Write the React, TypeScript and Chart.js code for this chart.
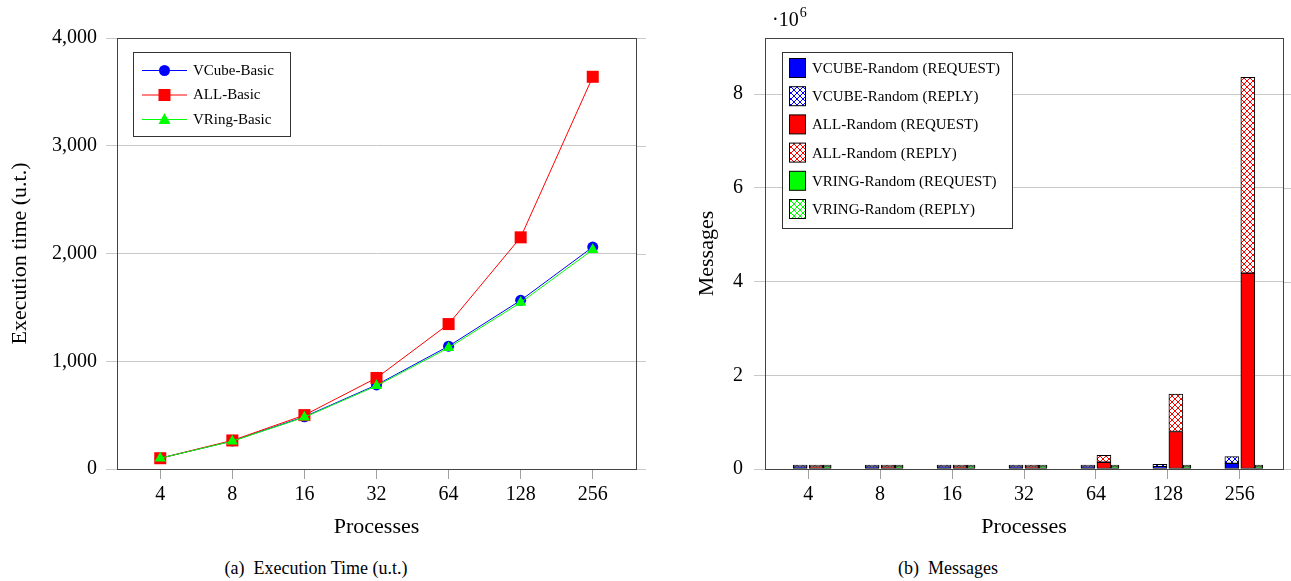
import React, { useEffect, useRef } from 'react';
import { Chart, registerables } from 'chart.js';
Chart.register(...registerables);

const FONT = '"Liberation Serif", "Times New Roman", serif';

// ---- data: left chart (execution time) ----
const processes = ['4', '8', '16', '32', '64', '128', '256'];
const vcubeBasic = [100, 260, 485, 780, 1140, 1565, 2060];
const allBasic = [100, 265, 500, 845, 1345, 2150, 3640];
const vringBasic = [100, 258, 480, 772, 1125, 1545, 2035];
const timeTicks = [0, 1000, 2000, 3000, 4000];

// ---- data: right chart (messages) ----
const vcubeRequest = [150, 700, 2500, 6000, 15000, 50000, 120000];
const vcubeReply = [150, 700, 2500, 6000, 17000, 50000, 143000];
const allRequest = [100, 700, 4300, 30000, 145000, 800000, 4180000];
const allReply = [100, 700, 4300, 30000, 145000, 800000, 4180000];
const vringRequest = [30, 150, 600, 2000, 5000, 12000, 25000];
const vringReply = [30, 150, 600, 2000, 5000, 12000, 25000];
const msgTicks = [0, 2e6, 4e6, 6e6, 8e6];
const msgMax = 9.2e6;
const msgExponent = 6;

// group offsets (style)
const OFF_VCUBE = -0.111;
const OFF_ALL = 0.111;
const OFF_VRING = 0.264;

const BLUE = '#0000ff';
const RED = '#ff0000';
const GREEN = '#00ff00';
const GRID = '#c8c8c8';
const TICKC = '#a0a0a0';
const FRAME = '#444';

function hatch(color: string): CanvasPattern {
  const c = document.createElement('canvas');
  c.width = 6;
  c.height = 6;
  const g = c.getContext('2d')!;
  g.fillStyle = '#fff';
  g.fillRect(0, 0, 6, 6);
  g.strokeStyle = color;
  g.lineWidth = 1;
  g.beginPath();
  g.moveTo(0, 0);
  g.lineTo(6, 6);
  g.moveTo(6, 0);
  g.lineTo(0, 6);
  g.stroke();
  return g.createPattern(c, 'repeat')!;
}

function drawFrame(chart: any, extend: number) {
  const { ctx, chartArea: a, scales } = chart;
  const y = scales.y;
  ctx.save();
  ctx.strokeStyle = GRID;
  ctx.lineWidth = 1;
  y.ticks.forEach((t: any) => {
    const py = Math.round(y.getPixelForValue(t.value)) + 0.5;
    ctx.beginPath();
    ctx.moveTo(a.right, py);
    ctx.lineTo(a.right + extend, py);
    ctx.stroke();
  });
  ctx.strokeStyle = FRAME;
  ctx.lineWidth = 1;
  ctx.strokeRect(Math.round(a.left) + 0.5, Math.round(a.top) + 0.5, Math.round(a.right - a.left), Math.round(a.bottom - a.top));
  ctx.restore();
}

function drawMarker(ctx: CanvasRenderingContext2D, kind: string, x: number, y: number, color: string) {
  ctx.fillStyle = color;
  ctx.beginPath();
  if (kind === 'circle') {
    ctx.arc(x, y, 5.5, 0, Math.PI * 2);
  } else if (kind === 'rect') {
    ctx.rect(x - 6, y - 6, 12, 12);
  } else {
    ctx.moveTo(x, y - 6.5);
    ctx.lineTo(x + 6, y + 4.5);
    ctx.lineTo(x - 6, y + 4.5);
    ctx.closePath();
  }
  ctx.fill();
}

const lineLegendItems = [
  { label: 'VCube-Basic', color: BLUE, marker: 'circle' },
  { label: 'ALL-Basic', color: RED, marker: 'rect' },
  { label: 'VRing-Basic', color: GREEN, marker: 'triangle' },
];

const leftPlugin = {
  id: 'leftDecor',
  afterDraw(chart: any) {
    drawFrame(chart, 10);
    const ctx: CanvasRenderingContext2D = chart.ctx;
    ctx.save();
    const bx = 133, by = 52, bw = 157, bh = 84;
    ctx.fillStyle = '#fff';
    ctx.fillRect(bx, by, bw, bh);
    ctx.strokeStyle = '#333';
    ctx.lineWidth = 1;
    ctx.strokeRect(bx + 0.5, by + 0.5, bw, bh);
    ctx.font = `15px ${FONT}`;
    ctx.textBaseline = 'middle';
    lineLegendItems.forEach((it, i) => {
      const cy = 70 + i * 24.5;
      ctx.strokeStyle = it.color;
      ctx.beginPath();
      ctx.moveTo(142, cy + 0.5);
      ctx.lineTo(187, cy + 0.5);
      ctx.stroke();
      drawMarker(ctx, it.marker, 164.5, cy + 0.5, it.color);
      ctx.fillStyle = '#000';
      ctx.fillText(it.label, 193, cy + 1);
    });
    ctx.restore();
  },
};

export default function App() {
  const leftRef = useRef<HTMLCanvasElement>(null);
  const rightRef = useRef<HTMLCanvasElement>(null);

  useEffect(() => {
    const tickFont = { family: FONT, size: 20 };
    const titleFont = { family: FONT, size: 22 };
    const xAxis = (titleText: string) => ({
      type: 'linear' as const,
      min: -0.6,
      max: 6.6,
      offset: false,
      afterBuildTicks: (s: any) => {
        s.ticks = processes.map((_, i) => ({ value: i }));
      },
      ticks: {
        autoSkip: false,
        maxRotation: 0,
        includeBounds: false,
        callback: (v: any) => processes[v as number],
        font: tickFont,
        color: '#000',
        padding: 4,
      },
      grid: { display: true, offset: false, drawOnChartArea: false, drawTicks: true, tickLength: 10, color: TICKC },
      border: { display: false },
      title: { display: true, text: titleText, font: titleFont, color: '#000', padding: { top: 0, bottom: 5 } },
      afterFit: (s: any) => {
        s.height = 76;
      },
    });

    const c1 = new Chart(leftRef.current!, {
      type: 'line',
      data: {
        datasets: [
          {
            label: 'VCube-Basic',
            data: vcubeBasic.map((v, i) => ({ x: i, y: v })),
            borderColor: BLUE,
            backgroundColor: BLUE,
            borderWidth: 1,
            pointStyle: 'circle',
            pointRadius: 5.5,
            pointBorderWidth: 0,
            order: 2,
          },
          {
            label: 'ALL-Basic',
            data: allBasic.map((v, i) => ({ x: i, y: v })),
            borderColor: RED,
            backgroundColor: RED,
            borderWidth: 1,
            pointStyle: 'rect',
            pointRadius: 8.5,
            pointBorderWidth: 0,
            order: 1,
          },
          {
            label: 'VRing-Basic',
            data: vringBasic.map((v, i) => ({ x: i, y: v })),
            borderColor: GREEN,
            backgroundColor: GREEN,
            borderWidth: 1,
            pointStyle: 'triangle',
            pointRadius: 6.5,
            pointBorderWidth: 0,
            order: 0,
          },
        ],
      },
      options: {
        responsive: true,
        maintainAspectRatio: false,
        animation: false,
        layout: { padding: { top: 38, left: 0, right: 14, bottom: 0 } },
        plugins: { legend: { display: false }, tooltip: { enabled: false } },
        scales: {
          x: xAxis('Processes') as any,
          y: {
            type: 'linear',
            min: timeTicks[0],
            max: timeTicks[timeTicks.length - 1],
            afterBuildTicks: (s: any) => {
              s.ticks = timeTicks.map((v) => ({ value: v }));
            },
            ticks: {
              font: tickFont,
              color: '#000',
              padding: 9,
              callback: (v: any) => Number(v).toLocaleString('en-US'),
            },
            grid: { color: GRID, tickLength: 11, drawTicks: true },
            border: { display: false },
            title: { display: true, text: 'Execution time (u.t.)', font: titleFont, color: '#000', padding: { top: 7, bottom: 0 } },
            afterFit: (s: any) => {
              s.width = 117;
            },
          },
        },
      },
      plugins: [leftPlugin],
    });

    const blueH = hatch(BLUE);
    const redH = hatch(RED);
    const greenH = hatch(GREEN);

    const barLegendItems = [
      { label: 'VCUBE-Random (REQUEST)', fill: BLUE as any },
      { label: 'VCUBE-Random (REPLY)', fill: blueH as any },
      { label: 'ALL-Random (REQUEST)', fill: RED as any },
      { label: 'ALL-Random (REPLY)', fill: redH as any },
      { label: 'VRING-Random (REQUEST)', fill: GREEN as any },
      { label: 'VRING-Random (REPLY)', fill: greenH as any },
    ];

    const rightPlugin = {
      id: 'rightDecor',
      afterDraw(chart: any) {
        drawFrame(chart, 8);
        const ctx: CanvasRenderingContext2D = chart.ctx;
        ctx.save();
        // exponent
        ctx.fillStyle = '#000';
        ctx.textBaseline = 'alphabetic';
        ctx.font = `20px ${FONT}`;
        const base = '\u00b710';
        ctx.fillText(base, 122, 26);
        const w = ctx.measureText(base).width;
        ctx.font = `14px ${FONT}`;
        ctx.fillText(String(msgExponent), 122 + w + 1, 17);
        // legend
        const bx = 132, by = 52, bw = 230, bh = 176;
        ctx.fillStyle = '#fff';
        ctx.fillRect(bx, by, bw, bh);
        ctx.strokeStyle = '#333';
        ctx.lineWidth = 1;
        ctx.strokeRect(bx + 0.5, by + 0.5, bw, bh);
        ctx.font = `15px ${FONT}`;
        ctx.textBaseline = 'middle';
        barLegendItems.forEach((it, i) => {
          const cy = 68 + i * 28.2;
          ctx.fillStyle = it.fill;
          ctx.fillRect(139.5, cy - 9.5, 16, 19);
          ctx.strokeStyle = '#000';
          ctx.strokeRect(139.5, cy - 9.5, 16, 19);
          ctx.fillStyle = '#000';
          ctx.fillText(it.label, 162, cy + 1);
        });
        ctx.restore();
      },
    };

    const barDs = (label: string, values: number[], off: number, stack: string, bg: any, thick: number) => ({
      label,
      data: values.map((v, i) => ({ x: i + off, y: v })),
      stack,
      grouped: false,
      backgroundColor: bg,
      borderColor: '#000',
      borderWidth: 1,
      borderSkipped: false,
      barThickness: thick,
      minBarLength: 2,
    });

    const c2 = new Chart(rightRef.current!, {
      type: 'bar',
      data: {
        datasets: [
          barDs('VCUBE-Random (REQUEST)', vcubeRequest, OFF_VCUBE, 'vcube', BLUE, 14),
          barDs('VCUBE-Random (REPLY)', vcubeReply, OFF_VCUBE, 'vcube', blueH, 14),
          barDs('ALL-Random (REQUEST)', allRequest, OFF_ALL, 'all', RED, 14),
          barDs('ALL-Random (REPLY)', allReply, OFF_ALL, 'all', redH, 14),
          barDs('VRING-Random (REQUEST)', vringRequest, OFF_VRING, 'vring', GREEN, 8),
          barDs('VRING-Random (REPLY)', vringReply, OFF_VRING, 'vring', greenH, 8),
        ] as any,
      },
      options: {
        responsive: true,
        maintainAspectRatio: false,
        animation: false,
        layout: { padding: { top: 38, left: 0, right: 8, bottom: 0 } },
        plugins: { legend: { display: false }, tooltip: { enabled: false } },
        scales: {
          x: xAxis('Processes') as any,
          y: {
            type: 'linear',
            stacked: true,
            min: 0,
            max: msgMax,
            afterBuildTicks: (s: any) => {
              s.ticks = msgTicks.map((v) => ({ value: v }));
            },
            ticks: {
              font: tickFont,
              color: '#000',
              padding: 11,
              callback: (v: any) => String(Number(v) / Math.pow(10, msgExponent)),
            },
            grid: { color: GRID, tickLength: 11, drawTicks: true },
            border: { display: false },
            title: { display: true, text: 'Messages', font: titleFont, color: '#000', padding: { top: 44, bottom: 0 } },
            afterFit: (s: any) => {
              s.width = 115;
            },
          },
        },
      },
      plugins: [rightPlugin],
    });

    return () => {
      c1.destroy();
      c2.destroy();
    };
  }, []);

  return (
    <div style={{ position: 'fixed', left: 0, top: 0, width: 1291, height: 581, background: '#fff', fontFamily: FONT }}>
      <div style={{ position: 'absolute', left: 0, top: 0, width: 650, height: 545 }}>
        <canvas ref={leftRef} />
      </div>
      <div style={{ position: 'absolute', left: 650, top: 0, width: 641, height: 545 }}>
        <canvas ref={rightRef} />
      </div>
      <div style={{ position: 'absolute', left: 0, width: 632, top: 558, lineHeight: '20px', textAlign: 'center', fontSize: 18, whiteSpace: 'pre' }}>
        {'(a)  Execution Time (u.t.)'}
      </div>
      <div style={{ position: 'absolute', left: 648, width: 600, top: 558, lineHeight: '20px', textAlign: 'center', fontSize: 18, whiteSpace: 'pre' }}>
        {'(b)  Messages'}
      </div>
    </div>
  );
}
